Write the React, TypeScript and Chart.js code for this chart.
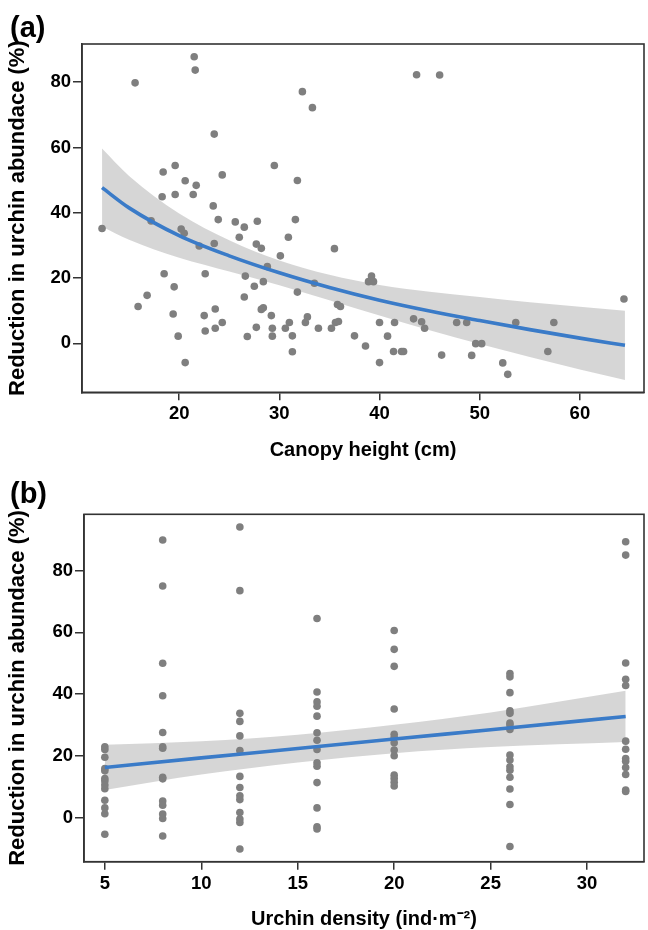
import React, { useEffect, useRef } from "react";
import { Chart, registerables } from "chart.js";

Chart.register(...registerables);

// ---------- Panel (a): canopy height vs reduction ----------
const canopyHeight = [
  21.5, 21.6, 15.6, 23.5, 19.6, 18.4, 24.3, 20.6, 21.7, 18.3, 19.6, 21.4, 23.4, 23.9, 25.6, 26.5, 27.8,
  17.2, 12.3, 20.2, 20.5, 26.0, 22.0, 23.5, 27.7, 28.2, 28.8, 26.6, 28.4, 27.5, 26.5, 28.4, 28.2, 27.7,
  26.8, 18.5, 22.6, 19.5, 16.8, 15.9, 19.4, 22.5, 23.6, 24.3, 23.6, 22.6, 19.9, 20.6, 43.7, 46.0, 32.3,
  33.3, 29.5, 31.8, 31.6, 30.9, 30.1, 35.5, 33.5, 31.8, 39.2, 38.9, 39.4, 35.8, 36.1, 29.2, 29.3, 29.3,
  30.6, 31.0, 31.3, 31.3, 32.6, 32.8, 33.9, 35.2, 35.6, 35.9, 37.5, 38.6, 40.0, 40.0, 40.8, 41.5, 41.4,
  42.2, 42.4, 43.4, 44.2, 44.5, 46.2, 47.7, 48.7, 49.6, 50.2, 49.2, 53.6, 57.4, 52.3, 52.8, 56.8, 64.4,
];
const reductionA = [
  87.8, 83.7, 79.8, 64.1, 54.5, 52.5, 51.6, 49.8, 48.4, 44.9, 45.6, 45.6, 42.1, 37.9, 37.2, 35.6, 37.4,
  37.5, 35.2, 35.0, 33.7, 32.5, 29.8, 30.6, 30.4, 29.1, 23.5, 20.6, 18.9, 17.5, 14.2, 10.9, 10.4, 4.9,
  2.1, 21.3, 21.3, 17.3, 14.7, 11.3, 9.0, 8.5, 10.5, 6.4, 4.6, 3.8, 2.2, -5.9, 82.3, 82.2, 77.1,
  72.2, 54.5, 49.9, 37.9, 32.5, 26.8, 29.0, 18.4, 15.7, 20.6, 18.9, 18.9, 11.9, 11.3, 8.5, 4.6, 2.2,
  4.6, 6.4, 2.3, -2.6, 6.4, 8.1, 4.6, 4.6, 6.4, 6.7, 2.3, -0.8, 6.4, -5.9, 2.2, 6.4, -2.5,
  -2.5, -2.5, 7.5, 6.6, 4.6, -3.6, 6.4, 6.4, -0.1, -0.1, -3.7, 6.4, 6.4, -6.0, -9.5, -2.5, 13.6,
];
const fitAx = [12.3, 15, 20, 25, 30, 35, 40, 45, 50, 55, 60, 64.5];
const fitAy = [47.7, 41.5, 33.0, 26.8, 21.6, 17.1, 13.2, 9.9, 7.0, 4.2, 1.6, -0.6];
const bandAUpper = [59.7, 51.3, 39.8, 31.6, 25.4, 21.0, 17.9, 15.8, 14.2, 12.6, 11.2, 10.0];
const bandALower = [35.7, 31.7, 26.2, 22.0, 17.8, 13.2, 8.5, 4.0, -0.2, -4.2, -8.0, -11.2];
const xTicksA = [20, 30, 40, 50, 60];
const yTicks = [0, 20, 40, 60, 80];

// ---------- Panel (b): urchin density vs reduction ----------
const densities = [5, 8, 12, 16, 20, 26, 32];
const reductionB = [
  [23.0, 22.1, 19.6, 15.9, 15.2, 12.7, 11.9, 10.6, 9.4, 5.7, 3.2, 1.3, -5.3],
  [89.9, 75.0, 50.0, 39.5, 27.6, 23.0, 22.5, 13.1, 12.6, 5.4, 4.1, 1.2, -0.2, -5.9],
  [94.1, 73.5, 33.8, 31.2, 26.5, 21.8, 13.4, 9.8, 7.1, 5.9, 1.7, -0.4, -1.5, -10.1],
  [64.5, 40.7, 37.5, 36.1, 32.9, 27.5, 25.1, 22.1, 17.8, 16.7, 11.4, 3.2, -2.9, -3.6],
  [60.6, 54.5, 49.0, 35.2, 27.0, 26.0, 24.3, 21.9, 20.1, 13.8, 12.7, 11.5, 10.3],
  [46.7, 45.6, 40.5, 34.6, 33.8, 30.7, 30.0, 28.6, 20.3, 18.7, 16.5, 15.4, 13.1, 9.3, 4.3, -9.3],
  [89.3, 85.0, 50.1, 44.8, 42.8, 24.8, 22.2, 19.2, 18.3, 16.3, 14.0, 9.0, 8.5],
];
const fitBx = [5, 10, 15, 20, 25, 32];
const fitBy = [16.3, 19.4, 22.4, 25.5, 28.5, 32.8];
const bandBUpper = [23.6, 24.8, 26.9, 30.1, 34.1, 41.1];
const bandBLower = [9.0, 14.0, 17.9, 20.9, 22.9, 24.5];
const xTicksB = [5, 10, 15, 20, 25, 30];

// ---------- styling ----------
const FONT = "'Liberation Sans', Arial, Helvetica, sans-serif";
const INK = "#000000";
const AXIS = "#333333";
const POINT = "#7f7f7f";
const LINE = "#3a7bc8";
const BAND = "rgba(153,153,153,0.4)";
const W = 648;
const H = 465;

const zip = (xs: number[], ys: number[]) => xs.map((x, i) => ({ x, y: ys[i] }));

const framePlugin = {
  id: "frame",
  afterDraw(chart: any) {
    const { ctx, chartArea: a } = chart;
    ctx.save();
    ctx.strokeStyle = AXIS;
    ctx.lineWidth = 1.6;
    ctx.strokeRect(a.left, a.top, a.right - a.left, a.bottom - a.top);
    ctx.restore();
  },
};

const panelLabelPlugin = {
  id: "panelLabel",
  afterDraw(chart: any, _args: any, opts: any) {
    const { ctx } = chart;
    ctx.save();
    ctx.fillStyle = INK;
    ctx.font = `bold ${opts.size}px ${FONT}`;
    ctx.textBaseline = "alphabetic";
    ctx.textAlign = "left";
    ctx.fillText(opts.text, opts.x, opts.y);
    ctx.restore();
  },
};

type Spec = {
  label: string;
  labelY: number;
  xTitle: string;
  xTitlePad: number;
  xMin: number;
  xMax: number;
  xTicks: number[];
  yMin: number;
  yMax: number;
  points: { x: number; y: number }[];
  fit: { x: number; y: number }[];
  upper: { x: number; y: number }[];
  lower: { x: number; y: number }[];
  area: { top: number; bottom: number; left: number; right: number };
};

function makeChart(canvas: HTMLCanvasElement, s: Spec) {
  const tickFont = { family: FONT, size: 18.5, weight: "bold" as const };
  return new Chart(canvas, {
    type: "scatter",
    data: {
      datasets: [
        {
          type: "line",
          data: s.upper,
          borderWidth: 0,
          pointRadius: 0,
          fill: "+1",
          backgroundColor: BAND,
          cubicInterpolationMode: "monotone",
          order: 3,
        } as any,
        {
          type: "line",
          data: s.lower,
          borderWidth: 0,
          pointRadius: 0,
          fill: false,
          cubicInterpolationMode: "monotone",
          order: 3,
        } as any,
        {
          data: s.points,
          pointRadius: 3.8,
          pointBackgroundColor: POINT,
          backgroundColor: POINT,
          borderWidth: 0,
          pointBorderWidth: 0,
          order: 2,
        } as any,
        {
          type: "line",
          data: s.fit,
          borderColor: LINE,
          borderWidth: 3.6,
          pointRadius: 0,
          fill: false,
          cubicInterpolationMode: "monotone",
          order: 1,
        } as any,
      ],
    },
    options: {
      animation: false,
      responsive: false,
      maintainAspectRatio: false,
      events: [],
      layout: { padding: { top: s.area.top, right: W - s.area.right, left: 0, bottom: 0 } },
      plugins: {
        legend: { display: false },
        tooltip: { enabled: false },
        panelLabel: { text: s.label, x: 10, y: s.labelY, size: 29 },
      } as any,
      scales: {
        x: {
          type: "linear",
          min: s.xMin,
          max: s.xMax,
          afterBuildTicks: (scale: any) => {
            scale.ticks = s.xTicks.map((v) => ({ value: v }));
          },
          afterFit: (scale: any) => {
            scale.height = H - s.area.bottom;
          },
          ticks: { font: tickFont, color: INK, padding: 3, maxRotation: 0, autoSkip: false },
          grid: { display: true, drawOnChartArea: false, drawTicks: true, tickLength: 8, color: AXIS, lineWidth: 1.5 },
          border: { display: true, color: AXIS, width: 1.6 },
          title: {
            display: true,
            text: s.xTitle,
            color: INK,
            font: { family: FONT, size: 20, weight: "bold", lineHeight: 1.2 },
            padding: { top: 0, bottom: s.xTitlePad },
          },
        },
        y: {
          type: "linear",
          min: s.yMin,
          max: s.yMax,
          afterBuildTicks: (scale: any) => {
            scale.ticks = yTicks.map((v) => ({ value: v }));
          },
          afterFit: (scale: any) => {
            scale.width = s.area.left;
          },
          ticks: { font: tickFont, color: INK, padding: 2 },
          grid: { display: true, drawOnChartArea: false, drawTicks: true, tickLength: 9, color: AXIS, lineWidth: 1.5 },
          border: { display: true, color: AXIS, width: 1.6 },
          title: {
            display: true,
            text: "Reduction in urchin abundace (%)",
            color: INK,
            font: { family: FONT, size: 22, weight: "bold", lineHeight: 1.2 },
            padding: { top: 4.8, bottom: 0 },
          },
        },
      },
    },
    plugins: [framePlugin, panelLabelPlugin],
  } as any);
}

const pointsB = densities.flatMap((d, i) => reductionB[i].map((v) => ({ x: d, y: v })));

const specA: Spec = {
  label: "(a)",
  labelY: 37,
  xTitle: "Canopy height (cm)",
  xTitlePad: 3,
  xMin: 10.3,
  xMax: 66.4,
  xTicks: xTicksA,
  yMin: -15.0,
  yMax: 91.7,
  points: zip(canopyHeight, reductionA),
  fit: zip(fitAx, fitAy),
  upper: zip(fitAx, bandAUpper),
  lower: zip(fitAx, bandALower),
  area: { top: 44, bottom: 392.3, left: 82, right: 646.5 },
};

const specB: Spec = {
  label: "(b)",
  labelY: 38,
  xTitle: "Urchin density (ind\u00b7m\u207b\u00b2)",
  xTitlePad: -1.5,
  xMin: 3.92,
  xMax: 32.95,
  xTicks: xTicksB,
  yMin: -14.2,
  yMax: 98.2,
  points: pointsB,
  fit: zip(fitBx, fitBy),
  upper: zip(fitBx, bandBUpper),
  lower: zip(fitBx, bandBLower),
  area: { top: 49.3, bottom: 396.7, left: 84, right: 646.7 },
};

export default function App() {
  const refA = useRef<HTMLCanvasElement>(null);
  const refB = useRef<HTMLCanvasElement>(null);

  useEffect(() => {
    const a = makeChart(refA.current!, specA);
    const b = makeChart(refB.current!, specB);
    return () => {
      a.destroy();
      b.destroy();
    };
  }, []);

  return (
    <div style={{ position: "absolute", left: 0, top: 0, width: W, height: 2 * H, background: "#fff" }}>
      <canvas ref={refA} width={W} height={H} style={{ position: "absolute", left: 0, top: 0, width: W, height: H }} />
      <canvas ref={refB} width={W} height={H} style={{ position: "absolute", left: 0, top: H, width: W, height: H }} />
    </div>
  );
}
